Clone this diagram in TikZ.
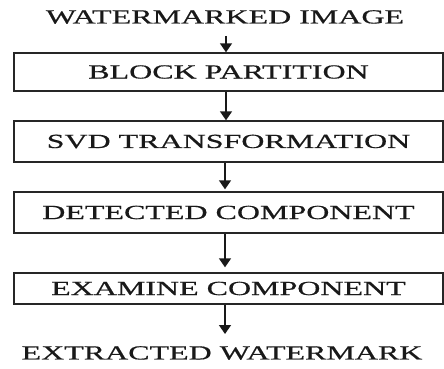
\documentclass[tikz,border=0pt]{standalone}
\usepackage{fontspec}
\setmainfont[FakeStretch=1.6,FakeBold=0.6]{Liberation Serif}
\usetikzlibrary{arrows.meta}
\begin{document}
\begin{tikzpicture}[x=1pt,y=-1pt,
  label/.style={font=\fontsize{20}{22}\selectfont, text=black!90, inner sep=0pt, anchor=center},
  stage/.style={draw=black!85, line width=1.4pt, minimum width=429pt, inner sep=0pt, label},
  flow/.style={draw=black!90, line width=1.5pt, -{Triangle[length=9pt,width=12pt]}}]
  \useasboundingbox (0,0) rectangle (444,369);
  % input and output labels
  \node[label] (in)  at (225,17) {WATERMARKED IMAGE};
  \node[label] (out) at (222,353) {EXTRACTED WATERMARK};
  % processing stages
  \node[stage, minimum height=38pt] (b1) at (228.5,72)    {BLOCK PARTITION};
  \node[stage, minimum height=41pt] (b2) at (228.5,141.5) {SVD TRANSFORMATION};
  \node[stage, minimum height=41pt] (b3) at (228.5,212.5) {DETECTED COMPONENT};
  \node[stage, minimum height=31pt] (b4) at (228.5,288.5) {EXAMINE COMPONENT};
  % connectors
  \coordinate (a1) at (226,36);
  \coordinate (a5) at (225,334);
  \draw[flow] (a1) -- (a1 |- b1.north);
  \draw[flow] ([xshift=-2.5pt]b1.south) -- ([xshift=-2.5pt]b2.north);
  \draw[flow] ([xshift=-3.5pt]b2.south) -- ([xshift=-3.5pt,yshift=2pt]b3.north);
  \draw[flow] ([xshift=-3.5pt]b3.south) -- ([xshift=-3.5pt,yshift=5pt]b4.north);
  \draw[flow] (a5 |- b4.south) -- (a5);
\end{tikzpicture}
\end{document}
